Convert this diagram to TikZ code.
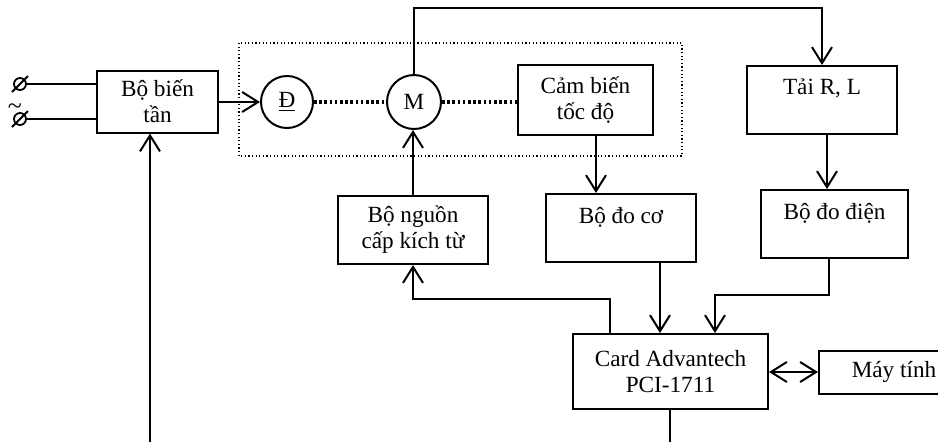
\documentclass[tikz,border=0pt]{standalone}
\usepackage{fontspec}
\setmainfont{Liberation Serif}
\usetikzlibrary{arrows.meta,calc}
\begin{document}
\begin{tikzpicture}[x=0.5pt,y=-0.5pt,
  txt/.style={font=\fontsize{11.6pt}{13pt}\selectfont},
  box/.style={txt,draw,line width=1pt,inner sep=0pt,align=center},
  circ/.style={txt,draw,circle,line width=1pt,inner sep=0pt},
  conn/.style={line width=1pt},
  arr/.style={conn,-{Straight Barb[length=8pt,width=10pt]}},
  darr/.style={conn,{Straight Barb[length=8pt,width=10pt]}-{Straight Barb[length=8pt,width=10pt]}},
  shaft/.style={line width=1.6pt,dash pattern=on 1.3pt off 1.3pt},
  frame/.style={line width=0.6pt,dash pattern=on 0.6pt off 1.2pt}]
\useasboundingbox (0,0) rectangle (938,441);
\clip (0,0) rectangle (938,441);
% dotted frame
\draw[frame] (239,43) rectangle (682,156);
% nodes
\node[box,minimum width=60.5pt,minimum height=31pt] (bien) at (157.5,101.5) {Bộ biến\\tần};
\node[circ,minimum size=26pt] (D) at (287,102) {\underline{Đ}};
\node[circ,minimum size=27pt] (M) at (414,102) {M};
\node[box,minimum width=67.5pt,minimum height=35pt] (cb) at (585.5,100) {Cảm biến\\tốc độ};
\node[box,minimum width=75pt,minimum height=34pt] (tai) at (822,100) {Tải R, L\\\mbox{}};
\node[box,minimum width=75pt,minimum height=34pt] (nguon) at (413,230) {Bộ nguồn\\cấp kích từ};
\node[box,minimum width=75pt,minimum height=34pt] (doco) at (621,228) {Bộ đo cơ\\\mbox{}};
\node[box,minimum width=73.5pt,minimum height=34pt] (dodien) at (834.5,224) {Bộ đo điện\\\mbox{}};
\node[box,minimum width=97.5pt,minimum height=37.5pt] (card) at (670.5,371.5) {Card Advantech\\PCI-1711};
\node[box,minimum width=75pt,minimum height=21.5pt] (mt) at (894,372) {Máy tính};
% input terminals
\coordinate (t1) at (20,84);
\coordinate (t2) at (20,119);
\foreach \t in {t1,t2}{
  \draw[line width=0.9pt] (\t) circle[radius=3pt];
  \draw[line width=0.9pt] ($(\t)+(-8,8)$) -- ($(\t)+(8,-8)$);
  \draw[conn] ($(\t)+(6,0)$) -- (\t -| bien.west);
}
\node[inner sep=0pt,anchor=base,font=\fontsize{13pt}{13pt}\selectfont] (tilde) at (15,114) {\textasciitilde};
% connectors
\draw[arr] (bien.east |- D.west) -- (D.west);
\draw[shaft] (D.east) -- (M.west);
\draw[shaft] (M.east) -- (M.east -| cb.west);
\coordinate (top) at (822,8);
\draw[arr] (M.north) |- (top) -- (tai.north -| top);
\coordinate (x7) at (827,0);
\draw[arr] (tai.south -| x7) -- (dodien.north -| x7);
\coordinate (x1) at (596,0);
\draw[arr] (cb.south -| x1) -- (doco.north -| x1);
\draw[arr] (nguon.north) -- (nguon.north |- M.south);
\coordinate (x2) at (610,299);
\draw[arr] (card.north -| x2) -- (x2) -| (nguon.south);
\coordinate (x3) at (660,0);
\draw[arr] (doco.south -| x3) -- (card.north -| x3);
\coordinate (x4) at (829,295);
\coordinate (x5) at (715,295);
\draw[arr] (dodien.south -| x4) -- (x4) -- (x5) -- (card.north -| x5);
\draw[darr] (card.east |- mt.west) -- (mt.west);
\coordinate (b1) at (670,460);
\draw[conn] (card.south -| b1) -- (b1);
\coordinate (b2) at (150,460);
\draw[arr] (b2) -- (bien.south -| b2);
\end{tikzpicture}
\end{document}
